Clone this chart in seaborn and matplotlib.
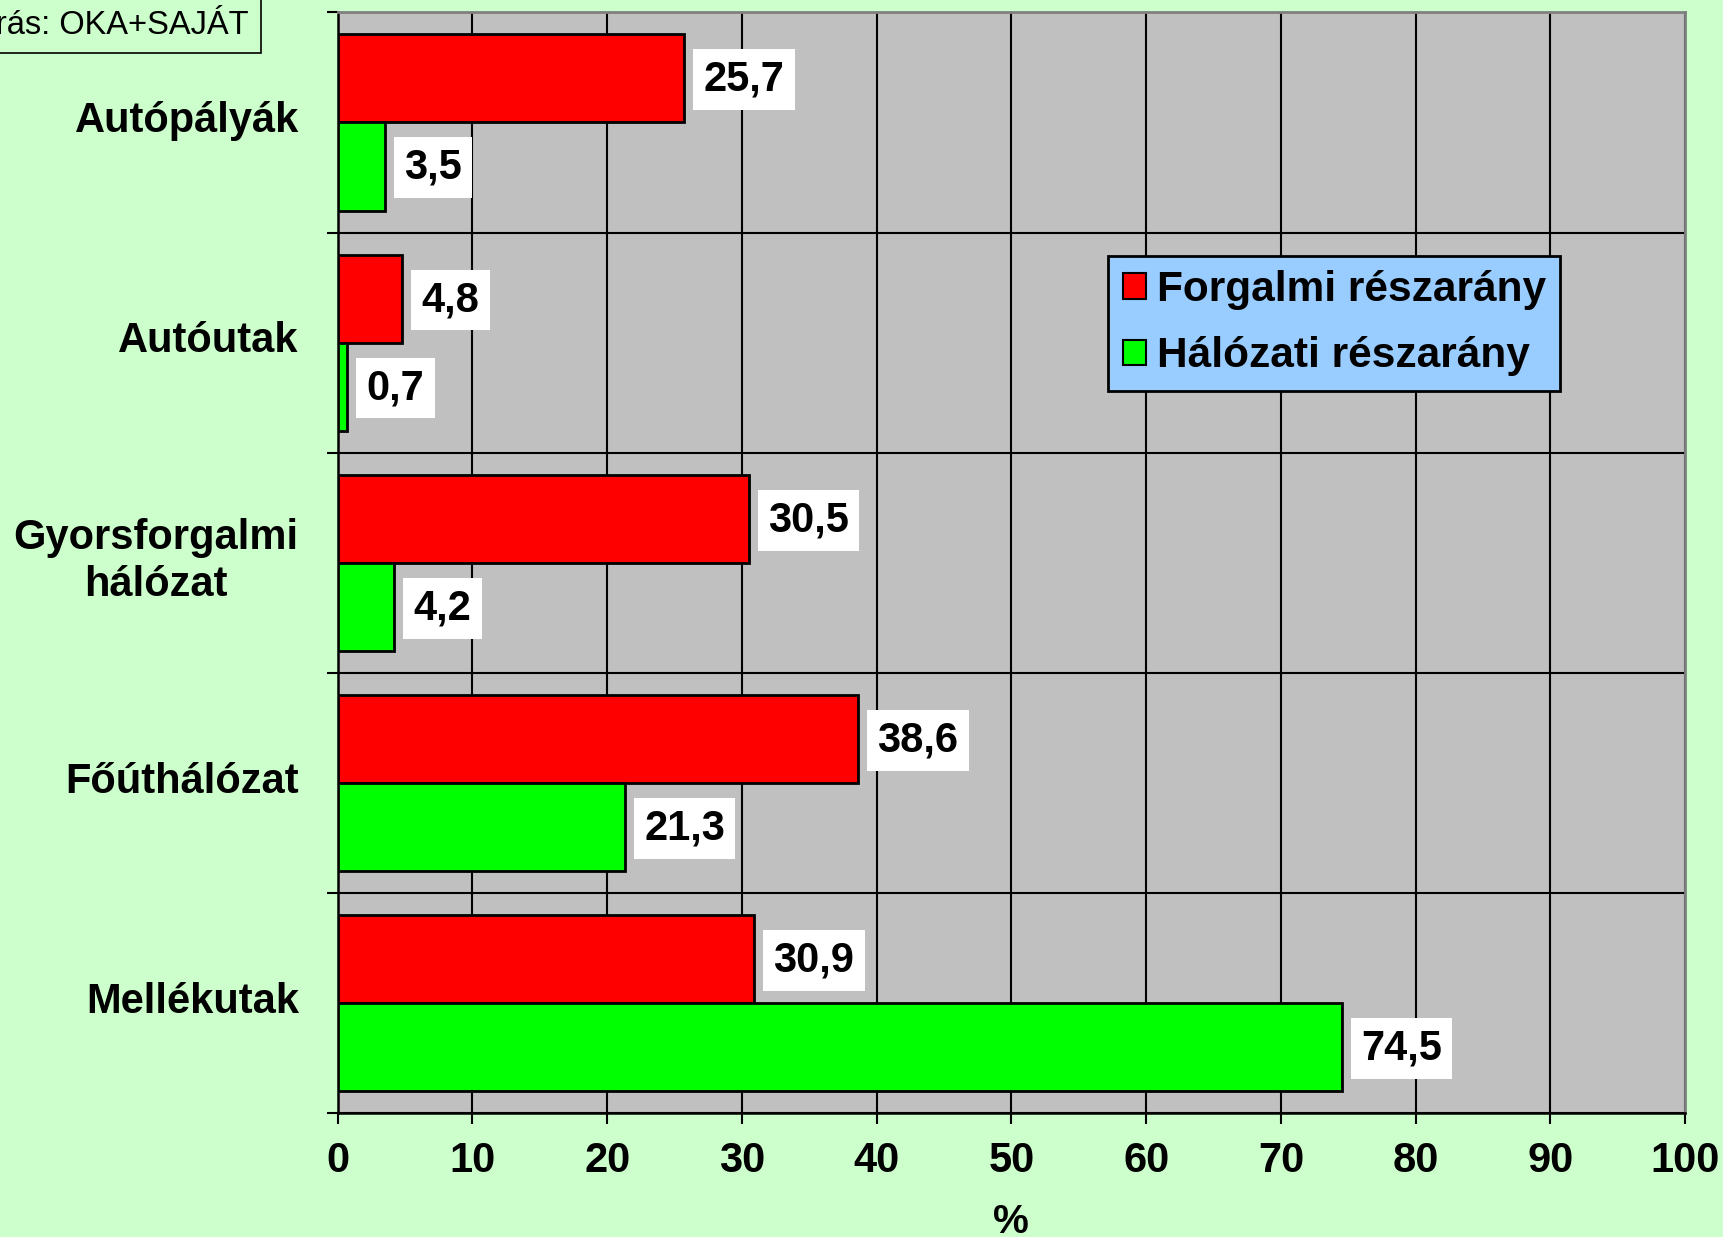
import matplotlib
matplotlib.use("Agg")
import matplotlib.pyplot as plt
from matplotlib.patches import Patch
from matplotlib.ticker import FixedLocator
from matplotlib.transforms import ScaledTranslation, blended_transform_factory
import seaborn as sns
import pandas as pd

# Road network categories and shares (%)
categories = ["Autópályák", "Autóutak", "Gyorsforgalmi\nhálózat", "Főúthálózat", "Mellékutak"]
series_names = ["Forgalmi részarány", "Hálózati részarány"]
traffic_share = [25.7, 4.8, 30.5, 38.6, 30.9]
network_share = [3.5, 0.7, 4.2, 21.3, 74.5]
x_ticks = [0, 10, 20, 30, 40, 50, 60, 70, 80, 90, 100]
source_text = "Forrás: OKA+SAJÁT"

colors = ["#FF0000", "#00FF00"]
fig_bg = "#CCFFCC"
plot_bg = "#C0C0C0"

df = pd.DataFrame({
    "kategoria": categories * 2,
    "sorozat": [series_names[0]] * len(categories) + [series_names[1]] * len(categories),
    "ertek": traffic_share + network_share,
})

sns.set_theme(style="white")
plt.rcParams["font.family"] = ["Liberation Sans", "DejaVu Sans"]
plt.rcParams["font.weight"] = "bold"
for key in ["text.color", "axes.labelcolor", "xtick.color", "ytick.color"]:
    plt.rcParams[key] = "black"

fig = plt.figure(figsize=(17.23, 12.37), dpi=100, facecolor=fig_bg)
ax = fig.add_axes([0.196, 0.100, 0.782, 0.890])
ax.set_facecolor(plot_bg)

sns.barplot(data=df, y="kategoria", x="ertek", hue="sorozat", order=categories,
            hue_order=series_names, palette=colors, orient="h", width=0.8,
            saturation=1, edgecolor="black", linewidth=2, ax=ax, legend=False,
            zorder=3)

ax.set_xlim(0, 100)
ax.set_ylim(len(categories) - 0.5, -0.5)
ax.set_xticks(x_ticks)
ax.set_xticklabels([str(t) for t in x_ticks], fontsize=30, fontweight="bold", color="black")

# Category names placed left of the axis at each band centre
ax.set_yticks(range(len(categories)))
ax.set_yticklabels([""] * len(categories))
label_tf = blended_transform_factory(ax.transAxes, ax.transData) + \
    ScaledTranslation(-28 / 72, 1 / 72, fig.dpi_scale_trans)
for i, name in enumerate(categories):
    ax.text(0, i, name, transform=label_tf, ha="right", va="center",
            multialignment="center", fontsize=30, fontweight="bold",
            color="black", linespacing=1.25)

# Tick marks and horizontal grid at band boundaries
ax.yaxis.set_minor_locator(FixedLocator([i - 0.5 for i in range(len(categories) + 1)]))
ax.tick_params(axis="y", which="major", length=0)
ax.tick_params(axis="y", which="minor", length=8, width=1.5, color="black", direction="out", left=True)
ax.tick_params(axis="x", which="major", length=8, width=1.5, color="black", direction="out",
               bottom=True, pad=12)

ax.grid(False)
ax.xaxis.grid(True, which="major", color="black", linewidth=1.5, zorder=1)
ax.yaxis.grid(True, which="minor", color="black", linewidth=1.5, zorder=1)
ax.set_axisbelow(True)

ax.set_ylabel("")
ax.set_xlabel("%", fontsize=29, fontweight="bold", labelpad=16, color="black")

for side in ["left", "bottom"]:
    ax.spines[side].set_color("black")
    ax.spines[side].set_linewidth(1.8)
for side in ["top", "right"]:
    ax.spines[side].set_color("#808080")
    ax.spines[side].set_linewidth(2)

# Value labels in white boxes next to each bar
for container in ax.containers:
    for bar in container:
        w = bar.get_width()
        yc = bar.get_y() + bar.get_height() / 2
        ax.annotate(f"{w:.1f}".replace(".", ","), xy=(w, yc), xytext=(14, -1),
                    textcoords="offset points", ha="left", va="center",
                    fontsize=30, fontweight="bold", color="black", zorder=5,
                    bbox=dict(boxstyle="square,pad=0.25", facecolor="white", edgecolor="none"))

handles = [Patch(facecolor=c, edgecolor="black", linewidth=1.5) for c in colors]
leg = ax.legend(handles, series_names, loc="upper left", bbox_to_anchor=(0.572, 0.779),
                borderaxespad=0, frameon=True, fancybox=False, facecolor="#99CCFF",
                edgecolor="black", framealpha=1, prop={"size": 30.5, "weight": "bold"},
                handlelength=0.55, handleheight=0.55, handletextpad=0.25,
                labelspacing=0.62, borderpad=0.34)
leg.get_frame().set_linewidth(2)
for t in leg.get_texts():
    t.set_color("black")

fig.text(249 / 1723, 1 - 25 / 1237, source_text, ha="right", va="center",
         fontsize=23.5, fontweight="normal", color="black",
         bbox=dict(boxstyle="square,pad=0.38", facecolor=fig_bg, edgecolor="black", linewidth=1.2))

fig.savefig("out.png", dpi=100, facecolor=fig_bg)
